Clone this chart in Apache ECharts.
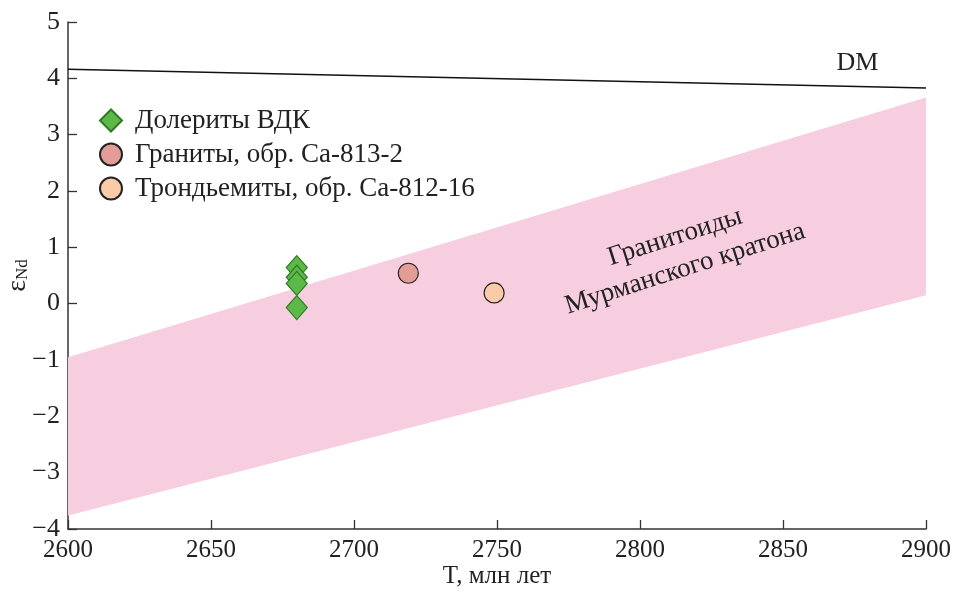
<!DOCTYPE html>
<html>
<head>
<meta charset="utf-8">
<script src="https://cdn.jsdelivr.net/npm/echarts@6/dist/echarts.min.js"></script>
<style>
html,body{margin:0;padding:0;background:#fff;}
#chart{width:954px;height:592px;}
</style>
</head>
<body>
<div id="chart"></div>
<script>
// ---- data ----
var xTicks = [2600, 2650, 2700, 2750, 2800, 2850, 2900];
var yTicks = [-4, -3, -2, -1, 0, 1, 2, 3, 4, 5];
var doleriteT = [2680, 2680, 2680, 2680];
var doleriteEps = [0.64, 0.47, 0.36, -0.07];
var graniteT = [2719];
var graniteEps = [0.54];
var trondT = [2749];
var trondEps = [0.19];
var dmT = [2600, 2900];
var dmEps = [4.16, 3.83];
var bandT = [2600, 2900];
var bandUpper = [-0.95, 3.66];
var bandLower = [-3.76, 0.15];
var seriesNames = ['Долериты ВДК', 'Граниты, обр. Са-813-2', 'Трондьемиты, обр. Са-812-16'];
var bandLabel = ['Гранитоиды', 'Мурманского кратона'];
var dmLabel = 'DM';

function zip(a, b) { return a.map(function (v, i) { return [v, b[i]]; }); }

var FONT = 'Liberation Serif';
var chart = echarts.init(document.getElementById('chart'));

var option = {
  backgroundColor: '#fff',
  animation: false,
  grid: { left: 68, right: 28, top: 22, bottom: 63, outerBoundsMode: 'none', containLabel: false },
  xAxis: {
    type: 'value', min: xTicks[0], max: xTicks[xTicks.length - 1], interval: 50,
    name: 'T, млн лет', nameLocation: 'middle', nameGap: 35, nameMoveOverlap: false,
    nameTextStyle: { fontFamily: FONT, fontSize: 25, color: '#222' },
    axisLine: { onZero: false, lineStyle: { color: '#333', width: 1.5 } },
    axisTick: { inside: true, length: 9, lineStyle: { color: '#333', width: 1.3 } },
    axisLabel: {
      fontFamily: FONT, fontSize: 25, color: '#222', margin: 9,
      formatter: function (v) { return String(v); }
    },
    splitLine: { show: false }
  },
  yAxis: {
    type: 'value', min: yTicks[0], max: yTicks[yTicks.length - 1], interval: 1,
    name: '{e|ε}{s|Nd}', nameLocation: 'middle', nameRotate: 90, nameGap: 36, nameMoveOverlap: false,
    nameTextStyle: {
      fontFamily: FONT, color: '#222',
      rich: {
        e: { fontFamily: FONT, fontSize: 28, color: '#222' },
        s: { fontFamily: FONT, fontSize: 17, color: '#222', padding: [10, 0, 0, 0] }
      }
    },
    axisLine: { show: true, onZero: false, lineStyle: { color: '#333', width: 1.5 } },
    axisTick: { show: true, inside: true, length: 9, lineStyle: { color: '#333', width: 1.3 } },
    axisLabel: {
      fontFamily: FONT, fontSize: 26, color: '#222', margin: 8,
      formatter: function (v) { return String(v).replace('-', '\u2212'); }
    },
    splitLine: { show: false }
  },
  legend: {
    orient: 'vertical', left: 99, top: 107, itemGap: 7, padding: 0,
    itemWidth: 22, itemHeight: 22,
    data: seriesNames,
    textStyle: { fontFamily: FONT, fontSize: 27, color: '#222', padding: [0, 0, 0, 8], lineHeight: 26 }
  },
  series: [
    {
      type: 'custom', name: 'band', silent: true, z: 1,
      data: [0],
      renderItem: function (params, api) {
        var pts = [];
        for (var i = 0; i < bandT.length; i++) pts.push(api.coord([bandT[i], bandUpper[i]]));
        for (var j = bandT.length - 1; j >= 0; j--) pts.push(api.coord([bandT[j], bandLower[j]]));
        var c = api.coord([2814, 0.9]);
        var d = api.coord([2876, 4.27]);
        return {
          type: 'group',
          children: [
            { type: 'polygon', shape: { points: pts }, style: { fill: '#f7cde0' } },
            {
              type: 'text', x: c[0], y: c[1], rotation: 0.31,
              style: {
                text: bandLabel.join('\n'), fontFamily: FONT, fontSize: 27, fill: '#222',
                align: 'center', verticalAlign: 'middle', lineHeight: 33
              }
            },
            {
              type: 'text', x: d[0], y: d[1],
              style: {
                text: dmLabel, fontFamily: FONT, fontSize: 26, fill: '#222',
                align: 'center', verticalAlign: 'middle'
              }
            }
          ]
        };
      }
    },
    {
      type: 'line', name: 'DM', data: zip(dmT, dmEps), symbol: 'none', silent: true, z: 2,
      lineStyle: { color: '#111', width: 1.5 }
    },
    {
      type: 'scatter', name: seriesNames[0], data: zip(doleriteT, doleriteEps),
      symbol: 'diamond', symbolSize: [21, 24], z: 5,
      itemStyle: { color: '#5cb947', borderColor: '#2e7a22', borderWidth: 1.2, opacity: 1 }
    },
    {
      type: 'scatter', name: seriesNames[1], data: zip(graniteT, graniteEps),
      symbol: 'circle', symbolSize: 20, z: 5,
      itemStyle: { color: '#e39c96', borderColor: '#222', borderWidth: 1.2, opacity: 1 }
    },
    {
      type: 'scatter', name: seriesNames[2], data: zip(trondT, trondEps),
      symbol: 'circle', symbolSize: 20, z: 5,
      itemStyle: { color: '#fbcaa9', borderColor: '#222', borderWidth: 1.2, opacity: 1 }
    }
  ]
};
chart.setOption(option);
</script>
</body>
</html>
